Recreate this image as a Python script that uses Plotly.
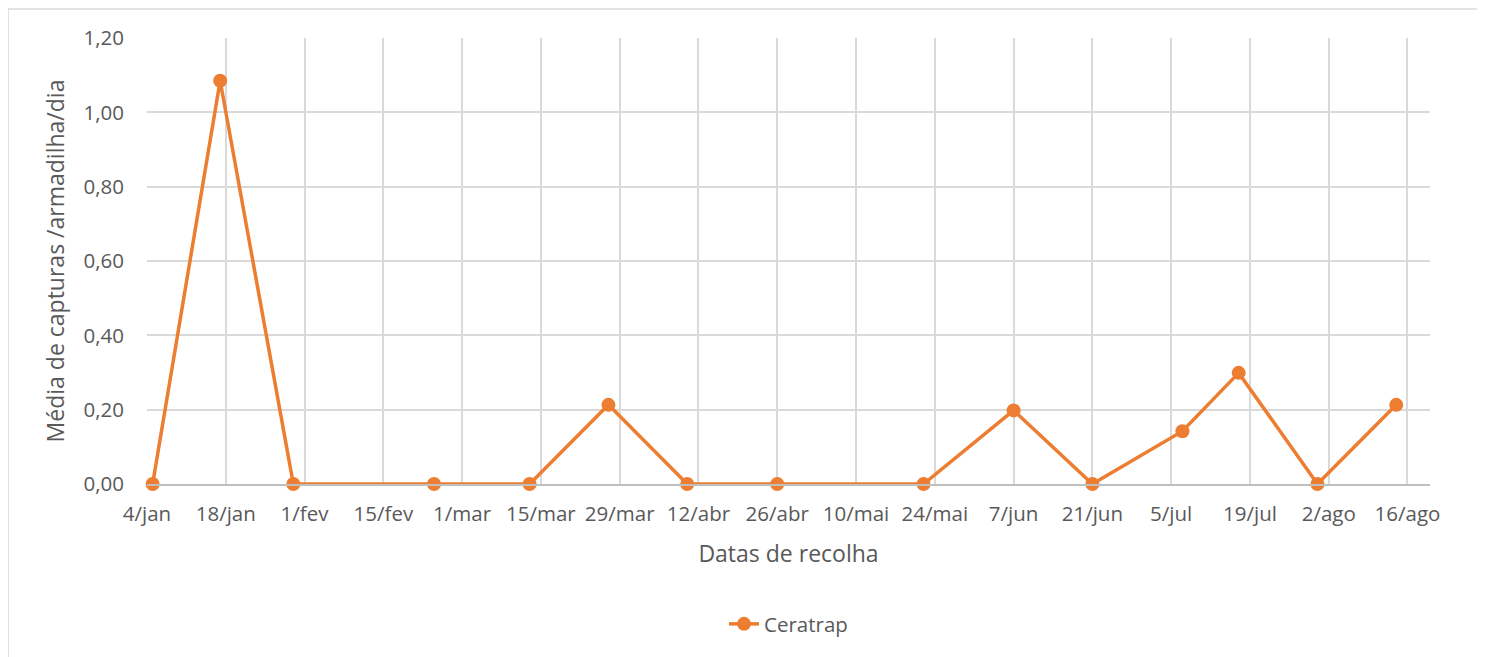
import plotly.graph_objects as go

# Data
dates = ["2021-01-05", "2021-01-17", "2021-01-30", "2021-02-24", "2021-03-13",
         "2021-03-27", "2021-04-10", "2021-04-26", "2021-05-22", "2021-06-07",
         "2021-06-21", "2021-07-07", "2021-07-17", "2021-07-31", "2021-08-14"]
ceratrap = [0.00, 1.085, 0.00, 0.00, 0.00,
            0.213, 0.00, 0.00, 0.00, 0.198,
            0.00, 0.142, 0.299, 0.00, 0.213]

tick_dates = ["2021-01-04", "2021-01-18", "2021-02-01", "2021-02-15", "2021-03-01",
              "2021-03-15", "2021-03-29", "2021-04-12", "2021-04-26", "2021-05-10",
              "2021-05-24", "2021-06-07", "2021-06-21", "2021-07-05", "2021-07-19",
              "2021-08-02", "2021-08-16"]
tick_labels = ["4/jan", "18/jan", "1/fev", "15/fev", "1/mar", "15/mar", "29/mar",
               "12/abr", "26/abr", "10/mai", "24/mai", "7/jun", "21/jun", "5/jul",
               "19/jul", "2/ago", "16/ago"]

ORANGE = "#ED7D31"
TEXT = "#595959"
GRID = "#d9d9d9"
FONT = "Open Sans"

fig = go.Figure()
fig.add_trace(go.Scatter(
    x=dates, y=ceratrap, name="Ceratrap", mode="lines+markers",
    line=dict(color=ORANGE, width=3.5),
    marker=dict(color=ORANGE, size=14),
    cliponaxis=False,
))

fig.update_layout(
    width=1485, height=657,
    margin=dict(l=139, r=63, t=30, b=181),
    paper_bgcolor="white", plot_bgcolor="white",
    separators=",.",
    font=dict(family=FONT, color=TEXT, size=20),
    showlegend=True,
    legend=dict(orientation="h", x=0.5, xanchor="center", y=-0.314, yanchor="middle",
                font=dict(size=20.5, color=TEXT, family=FONT)),
    xaxis=dict(
        type="date", range=["2021-01-04", "2021-08-20"],
        tickmode="array", tickvals=tick_dates, ticktext=tick_labels,
        showgrid=True, gridcolor=GRID, gridwidth=1.5,
        showline=True, linecolor="#bfbfbf", linewidth=1.5,
        ticks="", ticklabelstandoff=11,
        tickfont=dict(size=20.5, color=TEXT, family=FONT),
        title=dict(text="Datas de recolha", font=dict(size=23, color=TEXT, family=FONT), standoff=20),
        zeroline=False,
    ),
    yaxis=dict(
        range=[0, 1.2], dtick=0.2, tick0=0, tickformat=".2f",
        showgrid=True, gridcolor=GRID, gridwidth=1.5,
        showline=False, zeroline=False,
        ticks="", ticklabelstandoff=22,
        tickfont=dict(size=20.5, color=TEXT, family=FONT),
        title=dict(text="Média de capturas /armadilha/dia", font=dict(size=23, color=TEXT, family=FONT), standoff=12),
    ),
    shapes=[dict(type="rect", xref="paper", yref="paper",
                 x0=-0.1083, x1=1.06, y0=-0.42, y1=1.065,
                 line=dict(color=GRID, width=1.5), fillcolor="rgba(0,0,0,0)", layer="below")],
)

fig.write_html("out.html")
